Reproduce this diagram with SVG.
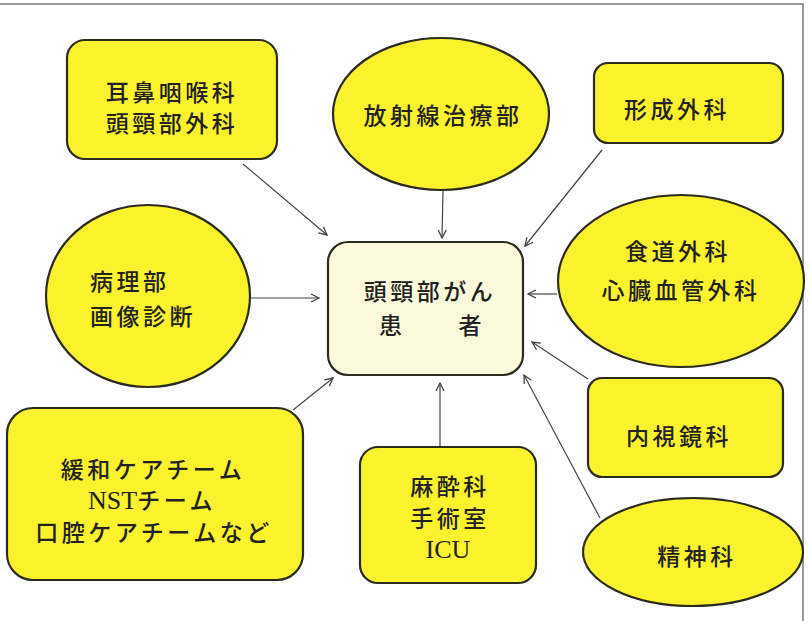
<svg xmlns="http://www.w3.org/2000/svg" width="809" height="621" viewBox="0 0 809 621">
<defs>
<style>
.n{fill:#FBF22E;stroke:#2b2b1e;stroke-width:2.2}
.c{fill:#FCFADC;stroke:#2b2b1e;stroke-width:2.2}
.t{font-family:"Noto Sans CJK JP","Noto Sans CJK SC",sans-serif;font-size:23px;font-weight:500;fill:#222;text-anchor:middle;letter-spacing:3.5px}
.s{font-family:"Liberation Serif","Noto Sans CJK JP",serif;font-weight:normal;font-size:26px;letter-spacing:0}
.e{stroke:#444;stroke-width:1.2;fill:none;marker-end:url(#ah)}
</style>
<marker id="ah" viewBox="0 0 10 10" refX="9" refY="5" markerWidth="10" markerHeight="10" markerUnits="userSpaceOnUse" orient="auto">
<path d="M1,1 L9,5 L1,9" fill="none" stroke="#444" stroke-width="1.3"/>
</marker>
</defs>
<rect x="0" y="0" width="809" height="621" fill="#fff"/>
<line x1="0" y1="4" x2="804" y2="4" stroke="#999" stroke-width="2"/>
<line x1="803" y1="3" x2="803" y2="621" stroke="#999" stroke-width="2"/>

<g id="connectors">
<line class="e" x1="243" y1="164" x2="327" y2="235"/>
<line class="e" x1="443" y1="191" x2="442" y2="238"/>
<line class="e" x1="602" y1="150" x2="525" y2="246"/>
<line class="e" x1="557" y1="294" x2="528" y2="294"/>
<line class="e" x1="250" y1="298" x2="319" y2="298"/>
<line class="e" x1="293" y1="410" x2="333" y2="378"/>
<line class="e" x1="440" y1="446" x2="440" y2="383"/>
<line class="e" x1="588" y1="379" x2="532" y2="342"/>
<line class="e" x1="600" y1="518" x2="524" y2="375"/>
</g>

<g id="n-jibi">
<rect class="n" x="67" y="40" width="210" height="119" rx="18"/>
<text class="t" x="172" y="101">耳鼻咽喉科</text>
<text class="t" x="172" y="132">頭頸部外科</text>
</g>

<g id="n-hoshasen">
<ellipse class="n" cx="441" cy="114" rx="108" ry="76"/>
<text class="t" x="443" y="124">放射線治療部</text>
</g>

<g id="n-keisei">
<rect class="n" x="594" y="63" width="189" height="80" rx="14"/>
<text class="t" x="677" y="118">形成外科</text>
</g>

<g id="n-shokudo">
<ellipse class="n" cx="681" cy="281" rx="123" ry="86"/>
<text class="t" x="678" y="260">食道外科</text>
<text class="t" x="681" y="299">心臓血管外科</text>
</g>

<g id="n-byori">
<ellipse class="n" cx="148" cy="296" rx="102" ry="91"/>
<text class="t" x="90" y="290" style="text-anchor:start">病理部</text>
<text class="t" x="90" y="325" style="text-anchor:start">画像診断</text>
</g>

<g id="n-center">
<rect class="c" x="328" y="242" width="195" height="133" rx="20"/>
<text class="t" x="430" y="300">頭頸部がん</text>
<text class="t" x="432" y="334">患　　者</text>
</g>

<g id="n-kanwa">
<rect class="n" x="7" y="408" width="296" height="172" rx="26"/>
<text class="t" x="153" y="478">緩和ケアチーム</text>
<text class="t" x="152" y="509"><tspan class="s">NST</tspan>チーム</text>
<text class="t" x="154" y="541">口腔ケアチームなど</text>
</g>

<g id="n-masui">
<rect class="n" x="360" y="447" width="176" height="136" rx="18"/>
<text class="t" x="450" y="495">麻酔科</text>
<text class="t" x="450" y="527">手術室</text>
<text class="t s" x="448" y="558">ICU</text>
</g>

<g id="n-naishikyo">
<rect class="n" x="588" y="378" width="195" height="99" rx="14"/>
<text class="t" x="679" y="445">内視鏡科</text>
</g>

<g id="n-seishin">
<ellipse class="n" cx="693" cy="552" rx="110" ry="54"/>
<text class="t" x="697" y="565">精神科</text>
</g>
</svg>
